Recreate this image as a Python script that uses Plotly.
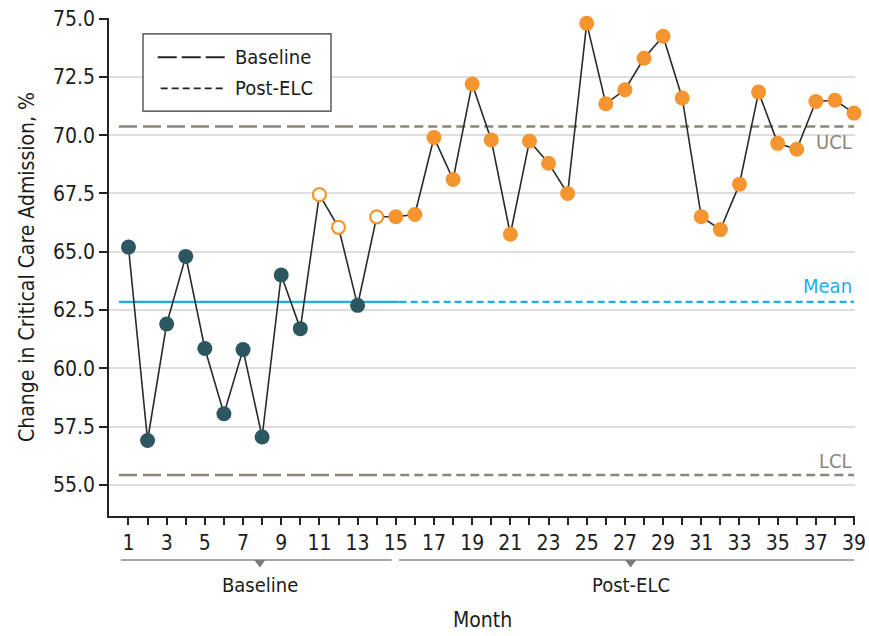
import plotly.graph_objects as go

# ---------------- data ----------------
months = list(range(1, 40))
values = [65.2, 56.9, 61.9, 64.8, 60.85, 58.05, 60.8, 57.05, 64.0, 61.7,
          67.45, 66.05, 62.7, 66.5, 66.5, 66.6, 69.9, 68.1, 72.2, 69.8,
          65.75, 69.75, 68.8, 67.5, 74.8, 71.35, 71.95, 73.3, 74.25, 71.6,
          66.5, 65.95, 67.9, 71.85, 69.65, 69.4, 71.45, 71.5, 70.95]
# point type: "base" = baseline (dark), "signal" = baseline special cause (open orange), "post" = post-ELC
point_type = ["base"] * 10 + ["signal", "signal", "base", "signal"] + ["post"] * 25

ucl_value = 70.37
lcl_value = 55.42
mean_value = 62.85
baseline_start = 0.5
limit_break = 14.5
mean_break = 15.2
last_month = 39

y_ticks = [55.0, 57.5, 60.0, 62.5, 65.0, 67.5, 70.0, 72.5, 75.0]
y_ticklabels = [f"{v:.1f}" for v in y_ticks]
x_ticks = months
x_ticklabels = [str(m) if m % 2 == 1 else "" for m in months]

phase_labels = ["Baseline", "Post-ELC"]
phase_spans = [(0.6, 14.78), (15.16, 39.0)]
phase_marks = [7.88, 27.3]

# ---------------- style ----------------
FONT = "DejaVu Sans Condensed, DejaVu Sans, Liberation Sans, sans-serif"
TXT = "#1c1c1c"
DARK = "#2c5660"
ORANGE = "#f5952f"
LIMIT = "#8c8579"
MEAN = "#1cafe7"
GRID = "#dedede"

fig = go.Figure()

# reference lines
for yv, nm in [(ucl_value, "UCL"), (lcl_value, "LCL")]:
    fig.add_trace(go.Scatter(x=[baseline_start, limit_break], y=[yv, yv], mode="lines",
                             line=dict(color=LIMIT, width=2.5, dash="18px,6px"),
                             hoverinfo="skip", showlegend=False))
    fig.add_trace(go.Scatter(x=[limit_break, last_month], y=[yv, yv], mode="lines",
                             line=dict(color=LIMIT, width=2.5, dash="9px,5px"),
                             hoverinfo="skip", showlegend=False))
fig.add_trace(go.Scatter(x=[baseline_start, mean_break], y=[mean_value, mean_value], mode="lines",
                         line=dict(color=MEAN, width=2.2), hoverinfo="skip", showlegend=False))
fig.add_trace(go.Scatter(x=[mean_break, last_month], y=[mean_value, mean_value], mode="lines",
                         line=dict(color=MEAN, width=2.2, dash="7px,4px"), hoverinfo="skip",
                         showlegend=False))

# connecting line
fig.add_trace(go.Scatter(x=months, y=values, mode="lines",
                         line=dict(color="#2a2a2a", width=1.6), showlegend=False,
                         hoverinfo="skip", cliponaxis=False))

# markers
fill = []
border = []
bw = []
size = []
for t in point_type:
    if t == "base":
        fill.append(DARK); border.append(DARK); bw.append(0); size.append(15)
    elif t == "signal":
        fill.append("white"); border.append(ORANGE); bw.append(2.2); size.append(13)
    else:
        fill.append(ORANGE); border.append(ORANGE); bw.append(0); size.append(15)
fig.add_trace(go.Scatter(x=months, y=values, mode="markers",
                         marker=dict(color=fill, size=size, opacity=1,
                                     line=dict(color=border, width=bw)),
                         showlegend=False, cliponaxis=False))

shapes = []
annotations = []

# custom legend
shapes.append(dict(type="rect", xref="paper", yref="paper", x0=0.0456, x1=0.2976, y0=0.813, y1=0.968,
                   line=dict(color="#333333", width=1.2), fillcolor="white", layer="above"))
shapes.append(dict(type="line", xref="paper", yref="paper", x0=0.0653, x1=0.1555, y0=0.9211, y1=0.9211,
                   line=dict(color="#222222", width=2, dash="19px,5px"), layer="above"))
shapes.append(dict(type="line", xref="paper", yref="paper", x0=0.0693, x1=0.1555, y0=0.8588, y1=0.8588,
                   line=dict(color="#222222", width=1.8, dash="7px,4px"), layer="above"))
annotations.append(dict(text="Baseline", xref="paper", yref="paper", x=0.1662, y=0.9211,
                        xanchor="left", yanchor="middle", showarrow=False,
                        font=dict(family=FONT, size=20, color=TXT)))
annotations.append(dict(text="Post-ELC", xref="paper", yref="paper", x=0.1662, y=0.8588,
                        xanchor="left", yanchor="middle", showarrow=False,
                        font=dict(family=FONT, size=20, color=TXT)))

# line labels
for txt, yv, col in [("UCL", 69.72, LIMIT), ("LCL", 56.03, LIMIT), ("Mean", 63.54, MEAN)]:
    annotations.append(dict(text=txt, xref="x", yref="y", x=last_month, y=yv, xanchor="right",
                            yanchor="middle", showarrow=False,
                            font=dict(family=FONT, size=20, color=col)))

# phase brackets
br_y = -0.0884
for (a, b), lab, m in zip(phase_spans, phase_labels, phase_marks):
    shapes.append(dict(type="line", xref="x", yref="paper", x0=a, x1=b, y0=br_y, y1=br_y,
                       line=dict(color="#8a8a8a", width=1.5)))
    shapes.append(dict(type="path", xref="x", yref="paper",
                       path=f"M {m-0.29},{br_y} L {m+0.29},{br_y} L {m},{br_y-0.015} Z",
                       fillcolor="#7a7a7a", line=dict(width=0)))
    annotations.append(dict(text=lab, xref="x", yref="paper", x=m, y=-0.1386, xanchor="center",
                            yanchor="middle", showarrow=False,
                            font=dict(family=FONT, size=20, color=TXT)))

# axis titles
annotations.append(dict(text="Month", xref="paper", yref="paper", x=0.5, y=-0.2088,
                        xanchor="center", yanchor="middle", showarrow=False,
                        font=dict(family=FONT, size=21, color=TXT)))
annotations.append(dict(text="Change in Critical Care Admission, %", xref="paper", yref="paper",
                        x=-0.1099, y=0.5, xanchor="center", yanchor="middle", textangle=-90,
                        showarrow=False, font=dict(family=FONT, size=21, color=TXT)))

fig.update_layout(
    width=869, height=636,
    margin=dict(l=109, r=14, t=18, b=120, autoexpand=False),
    paper_bgcolor="white", plot_bgcolor="white",
    font=dict(family=FONT, size=20, color=TXT),
    shapes=shapes, annotations=annotations,
    showlegend=False,
    xaxis=dict(range=[-0.02, 39.05], showgrid=False, zeroline=False, automargin=False,
               showline=True, linecolor="#222222", linewidth=1.5,
               ticks="outside", ticklen=7, tickwidth=1.5, tickcolor="#222222",
               tickvals=x_ticks, ticktext=x_ticklabels,
               tickfont=dict(family=FONT, size=21, color=TXT)),
    yaxis=dict(range=[53.66, 75.03], showgrid=True, gridcolor=GRID, gridwidth=2, zeroline=False,
               automargin=False,
               showline=True, linecolor="#222222", linewidth=1.5,
               ticks="outside", ticklen=8, tickwidth=1.5, tickcolor="#222222",
               tickvals=y_ticks, ticktext=y_ticklabels,
               tickfont=dict(family=FONT, size=21, color=TXT)),
)

# remove the page's default body margin so the figure fills the window exactly
fig.write_html("out.html", config={"displayModeBar": False},
               post_script="document.body.style.margin='0';document.body.style.overflow='hidden';")
